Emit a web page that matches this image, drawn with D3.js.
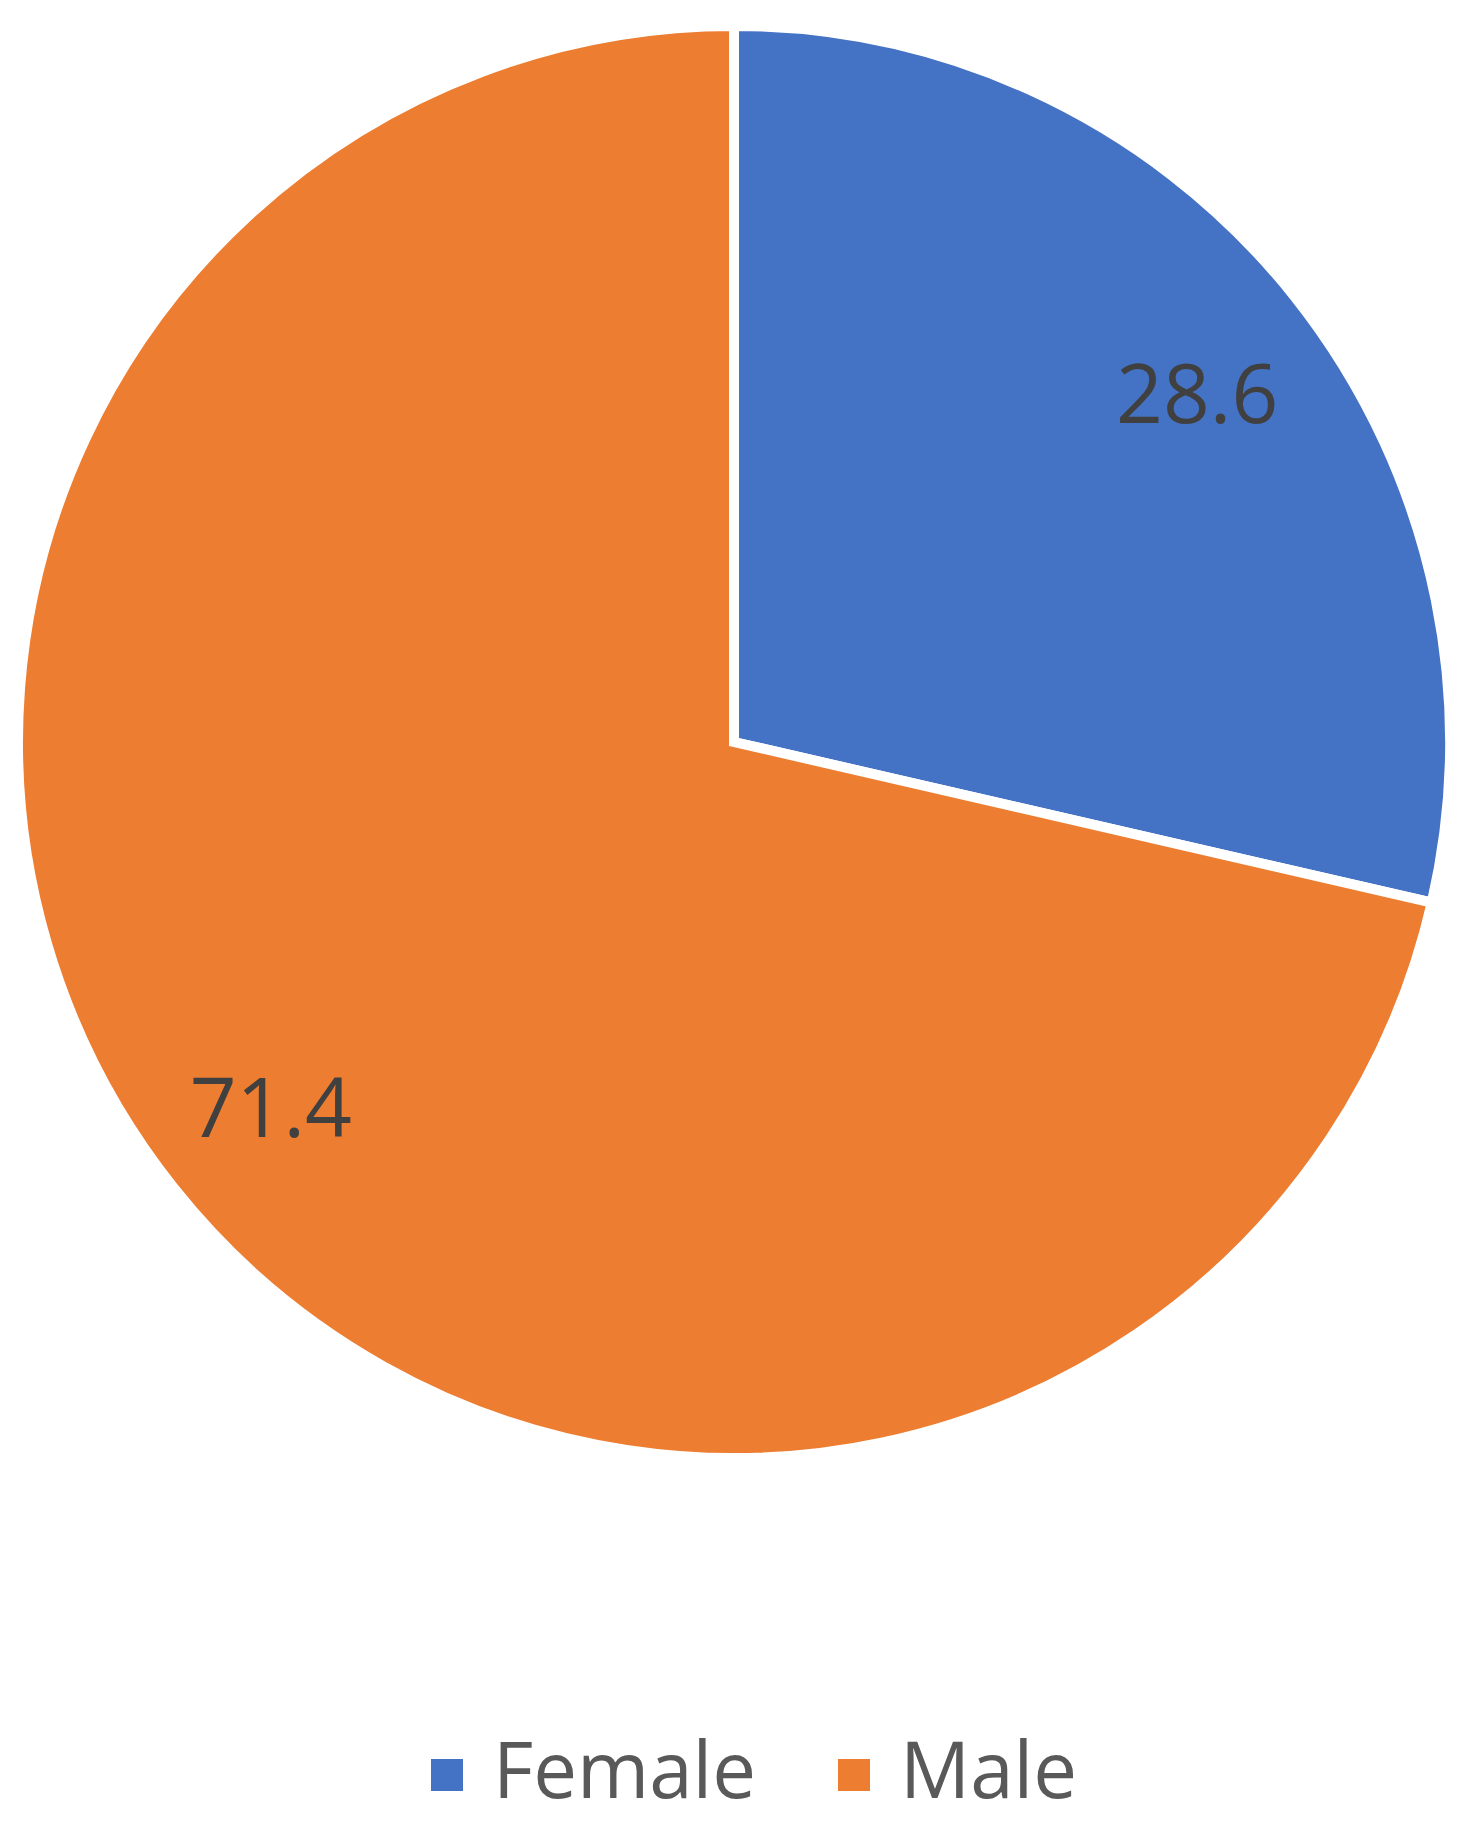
<!DOCTYPE html>
<html><head><meta charset="utf-8">
<script src="https://cdn.jsdelivr.net/npm/d3@7"></script>
<style>html,body{margin:0;padding:0;background:#fff;}</style>
</head><body>
<svg id="chart" width="1479" height="1824"></svg>
<script>
const categories = ["Female", "Male"];
const values = [28.6, 71.4];
const colors = ["#4472C4", "#ED7D31"];

const svg = d3.select("#chart");
const cx = 734, cy = 742, R = 716;
const color = d3.scaleOrdinal().domain(categories).range(colors);
const data = categories.map((c, i) => ({cat: c, value: values[i]}));
const pie = d3.pie().sort(null).value(d => d.value);
const arcs = pie(data);
const arc = d3.arc().innerRadius(0).outerRadius(R);
const labelArc = d3.arc().innerRadius(592).outerRadius(592);

const g = svg.append("g").attr("transform", `translate(${cx},${cy})`);
g.selectAll("path").data(arcs).join("path")
  .attr("d", arc)
  .attr("fill", d => color(d.data.cat))
  .attr("stroke", "#fff")
  .attr("stroke-width", 10)
  .attr("stroke-linejoin", "miter");

g.selectAll("text.lbl").data(arcs).join("text")
  .attr("class", "lbl")
  .attr("transform", d => {
    const [x, y] = labelArc.centroid(d);
    return `translate(${x},${y * 0.9675 + 6})`;
  })
  .attr("text-anchor", "middle")
  .attr("dominant-baseline", "central")
  .attr("font-family", "'Open Sans', 'Noto Sans', sans-serif")
  .attr("font-size", 82)
  .attr("fill", "#404040")
  .text(d => d.data.value);

// legend
const legend = svg.append("g");
const legendItems = [{x: 431}, {x: 838}];
categories.forEach((c, i) => {
  const lx = legendItems[i].x;
  legend.append("rect").attr("x", lx).attr("y", 1759).attr("width", 32).attr("height", 32)
    .attr("fill", color(c));
  legend.append("text").attr("x", lx + 62).attr("y", 1768)
    .attr("dominant-baseline", "central")
    .attr("font-family", "'Open Sans', 'Noto Sans', sans-serif")
    .attr("font-size", 78)
    .attr("fill", "#595959")
    .text(c);
});
</script>
</body></html>
